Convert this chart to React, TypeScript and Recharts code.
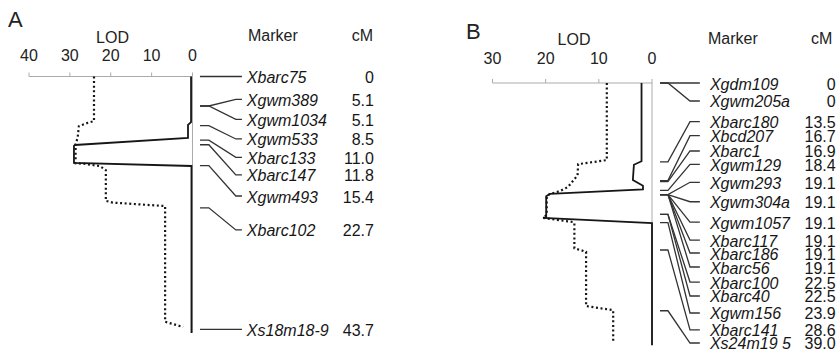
import React from 'react';
import { ScatterChart, Scatter, XAxis, YAxis, ReferenceLine } from 'recharts';

const FONT = '"Liberation Sans", Arial, Helvetica, sans-serif';
const INK = '#161616';
const GRID = '#ababab';

// ---- panel A (LOD on x, map position in cM on y) ----
const lodTicksA = [40, 30, 20, 10, 0];
const markersA = ['Xbarc75', 'Xgwm389', 'Xgwm1034', 'Xgwm533', 'Xbarc133', 'Xbarc147', 'Xgwm493', 'Xbarc102', 'Xs18m18-9'];
const cmA = [0, 5.1, 5.1, 8.5, 11.0, 11.8, 15.4, 22.7, 43.7];
// where each marker name sits in the label column (same cM scale)
const slotA = [0, 3.94, 7.4, 10.8, 13.97, 17.0, 20.66, 26.53, 43.7];
const solidLodA = [0.35, 0.35, 1.1, 1.1, 28.75, 29.0, 29.0, 0.25, 0.25];
const solidPosA = [0, 7.87, 8.38, 10.63, 11.84, 12.0, 14.95, 15.47, 44.34];
const dotLodA = [24.1, 24.1, 25.6, 27.8, 28.1, 28.6, 28.6, 26.3, 22.6, 21.2, 21.2, 19.5, 6.7, 6.7, 2.3];
const dotPosA = [0, 7.7, 8.0, 8.6, 10.6, 11.7, 15.0, 15.1, 15.5, 16.2, 21.5, 21.8, 22.4, 42.4, 43.3];

// ---- panel B ----
const lodTicksB = [30, 20, 10, 0];
const markersB = ['Xgdm109', 'Xgwm205a', 'Xbarc180', 'Xbcd207', 'Xbarc1', 'Xgwm129', 'Xgwm293', 'Xgwm304a', 'Xgwm1057',
  'Xbarc117', 'Xbarc186', 'Xbarc56', 'Xbarc100', 'Xbarc40', 'Xgwm156', 'Xbarc141', 'Xs24m19 5'];
const cmB = [0, 0, 13.5, 16.7, 16.9, 18.4, 19.1, 19.1, 19.1, 19.1, 19.1, 19.1, 22.5, 22.5, 23.9, 28.6, 39.0];
const slotB = [0, 3.08, 6.63, 9.02, 11.64, 13.92, 17.0, 20.33, 23.82, 26.9, 29.11, 31.51, 34.08, 36.47, 39.38, 42.29, 44.52];
const solidLodB = [1.97, 1.97, 3.4, 3.6, 1.7, 1.7, 19.2, 19.9, 19.9, 20.5, 0, 0];
const solidPosB = [0, 13.4, 14.0, 16.6, 17.6, 18.2, 19.0, 19.4, 23.0, 23.1, 24.0, 44.9];
const dotLodB = [8.5, 8.5, 13.9, 14.0, 15.8, 17.3, 19.2, 19.8, 19.8, 20.5, 14.9, 14.6, 14.6, 12.4, 12.4, 7.3, 7.3];
const dotPosB = [0, 13.2, 13.9, 15.8, 17.8, 18.5, 19.0, 19.4, 22.6, 23.1, 23.8, 24.0, 28.3, 28.9, 38.2, 38.9, 44.4];

const blank = () => <g />;

const fmtCm = (v: number) => (v === 0 ? '0' : v.toFixed(1));

type PanelProps = {
  left: number;
  width: number;
  margin: { top: number; right: number; bottom: number; left: number };
  xDomain: [number, number];
  ticks: number[];
  tickMargin: number;
  yMax: number;
  axisEnd: number;
  markers: string[];
  cm: number[];
  slots: number[];
  solidLod: number[];
  solidPos: number[];
  dotLod: number[];
  dotPos: number[];
  link: number[]; // x of the connector bends, in axis units
  nameX: number;
  cmX: number;
};

function Panel(p: PanelProps) {
  const solid = p.solidLod.map((x, i) => ({ x, y: p.solidPos[i] }));
  const dotted = p.dotLod.map((x, i) => ({ x, y: p.dotPos[i] }));
  const names = p.markers.map((name, i) => ({ x: p.nameX, y: p.slots[i], name }));
  const values = p.cm.map((v, i) => ({ x: p.cmX, y: p.slots[i], name: fmtCm(v) }));

  const nameShape = (s: any) => (
    <text x={s.cx} y={s.cy + 6.5} fontSize={16} fontStyle="italic" fontFamily={FONT} fill={INK}>
      {s.payload.name}
    </text>
  );
  const cmShape = (s: any) => (
    <text x={s.cx} y={s.cy + 6.5} fontSize={16} fontFamily={FONT} fill={INK} textAnchor="end">
      {s.payload.name}
    </text>
  );

  return (
    <div style={{ position: 'absolute', left: p.left, top: 0 }}>
      <ScatterChart width={p.width} height={352} margin={p.margin}>
        <XAxis
          type="number"
          dataKey="x"
          domain={p.xDomain}
          reversed
          orientation="top"
          ticks={p.ticks}
          interval={0}
          axisLine={false}
          tickLine={{ stroke: GRID }}
          tickSize={4}
          tickMargin={p.tickMargin}
          tick={{ fontSize: 16, fill: '#222', fontFamily: FONT }}
        />
        <YAxis type="number" dataKey="y" domain={[0, p.yMax]} reversed hide />
        <ReferenceLine segment={[{ x: p.ticks[0], y: 0 }, { x: 0, y: 0 }]} stroke={GRID} strokeWidth={1} />
        <ReferenceLine segment={[{ x: 0, y: 0 }, { x: 0, y: p.axisEnd }]} stroke={GRID} strokeWidth={1} />
        {p.markers.map((m, i) => (
          <Scatter
            key={m}
            data={[
              { x: p.link[0], y: p.cm[i] },
              { x: p.link[1], y: p.cm[i] },
              { x: p.link[2], y: p.slots[i] },
              { x: p.link[3], y: p.slots[i] },
            ]}
            fill="#333"
            line={{ stroke: '#333', strokeWidth: 1.3 }}
            lineType="joint"
            shape={blank}
            isAnimationActive={false}
          />
        ))}
        <Scatter
          data={dotted}
          fill={INK}
          line={{ stroke: INK, strokeWidth: 2.2, strokeDasharray: '2 2.6' }}
          lineType="joint"
          shape={blank}
          isAnimationActive={false}
        />
        <Scatter
          data={solid}
          fill={INK}
          line={{ stroke: INK, strokeWidth: 1.8 }}
          lineType="joint"
          shape={blank}
          isAnimationActive={false}
        />
        <Scatter data={names} shape={nameShape} isAnimationActive={false} />
        <Scatter data={values} shape={cmShape} isAnimationActive={false} />
      </ScatterChart>
    </div>
  );
}

export default function App() {
  return (
    <div
      style={{
        position: 'absolute',
        left: 0,
        top: 0,
        width: 837,
        height: 352,
        overflow: 'hidden',
        background: '#fff',
        fontFamily: FONT,
      }}
    >
      <Panel
        left={0}
        width={400}
        margin={{ top: 46.5, right: 19.5, bottom: 15.2, left: 29 }}
        xDomain={[-46, 40]}
        ticks={lodTicksA}
        tickMargin={12}
        yMax={45}
        axisEnd={44.3}
        markers={markersA}
        cm={cmA}
        slots={slotA}
        solidLod={solidLodA}
        solidPos={solidPosA}
        dotLod={dotLodA}
        dotPos={dotPosA}
        link={[-1.83, -4.0, -10.6, -12.1]}
        nameX={-13.3}
        cmX={-44.4}
      />
      <Panel
        left={440}
        width={410}
        margin={{ top: 53, right: 6.6, bottom: 6.2, left: 52.5 }}
        xDomain={[-36, 30]}
        ticks={lodTicksB}
        tickMargin={15}
        yMax={45}
        axisEnd={44.9}
        markers={markersB}
        cm={cmB}
        slots={slotB}
        solidLod={solidLodB}
        solidPos={solidPosB}
        dotLod={dotLodB}
        dotPos={dotPosB}
        link={[-1.5, -3.0, -7.15, -9.0]}
        nameX={-10.9}
        cmX={-34.55}
      />
      <svg
        width={837}
        height={352}
        style={{ position: 'absolute', left: 0, top: 0, pointerEvents: 'none' }}
        fontFamily={FONT}
        fill="#222"
      >
        <text x={8} y={27.3} fontSize={22}>A</text>
        <text x={112.5} y={42.5} fontSize={16} textAnchor="middle">LOD</text>
        <text x={248} y={40.5} fontSize={16}>Marker</text>
        <text x={373} y={40.5} fontSize={16} textAnchor="end">cM</text>
        <text x={466} y={39.3} fontSize={22}>B</text>
        <text x={574} y={45} fontSize={16} textAnchor="middle">LOD</text>
        <text x={708} y={44} fontSize={16}>Marker</text>
        <text x={811} y={44} fontSize={16}>cM</text>
      </svg>
    </div>
  );
}
